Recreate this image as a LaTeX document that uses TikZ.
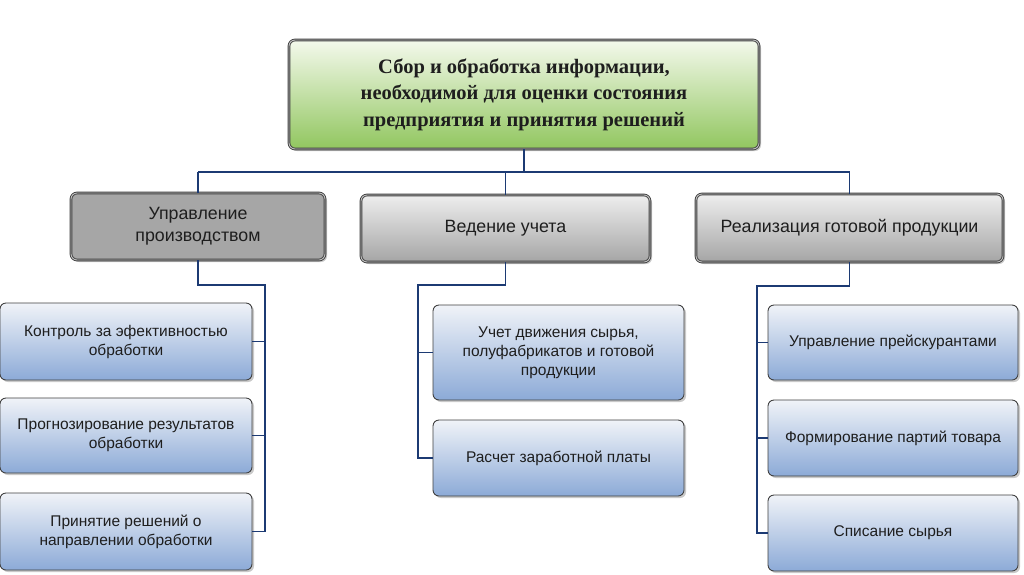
\documentclass[tikz,border=0pt]{standalone}
\usepackage{fontspec}
\setmainfont{Liberation Sans}
\newfontfamily\titlefont{Liberation Serif}
\usetikzlibrary{shadows}
\definecolor{conn}{RGB}{28,58,115}
\definecolor{txt}{RGB}{30,30,30}
\tikzset{
  box/.style={rounded corners=6pt, draw=black!75, line width=0.9pt, align=center, text=txt,
    inner sep=2pt, drop shadow={shadow xshift=2pt, shadow yshift=-2pt, fill=black!35, opacity=0.6}},
  framebox/.style={box, double=black!25, double distance=0.9pt},
  titlebox/.style={framebox, top color={rgb,255:red,244;green,249;blue,236}, bottom color={rgb,255:red,145;green,198;blue,95},
    font=\titlefont\bfseries\fontsize{20.5}{26.5}\selectfont, minimum width=470pt, minimum height=109pt},
  grayA/.style={framebox, fill={rgb,255:red,166;green,166;blue,166},
    font=\fontsize{17.8}{22}\selectfont},
  grayB/.style={framebox, top color={rgb,255:red,238;green,238;blue,238}, bottom color={rgb,255:red,165;green,165;blue,165},
    font=\fontsize{17.8}{22}\selectfont},
  bluebox/.style={box, top color={rgb,255:red,240;green,243;blue,248}, bottom color={rgb,255:red,140;green,170;blue,215},
    font=\fontsize{15.5}{19}\selectfont},
  connline/.style={draw=conn, line width=1.8pt},
  connshade/.style={draw=black!18, line width=1.8pt, xshift=1.5pt, yshift=-1.5pt},
}
\begin{document}
\begin{tikzpicture}[x=1pt,y=-1pt]
\useasboundingbox (0,0) rectangle (1024,574);
\fill[white] (0,0) rectangle (1024,574);
% nodes
\node[titlebox] (top) at (524,94.5) {Сбор и обработка информации,\\необходимой для оценки состояния\\предприятия и принятия решений};
\node[grayA, minimum width=254pt, minimum height=67pt] (a) at (198,226.5) {Управление\\производством};
\node[grayB, minimum width=289pt, minimum height=67pt] (b) at (505.5,228.5) {Ведение учета};
\node[grayB, minimum width=307pt, minimum height=68pt] (c) at (849.5,228) {Реализация готовой продукции};
\node[bluebox, minimum width=252pt, minimum height=77pt] (a1) at (126,341.5) {Контроль за эфективностью\\обработки};
\node[bluebox, minimum width=252pt, minimum height=75pt] (a2) at (126,435.5) {Прогнозирование результатов\\обработки};
\node[bluebox, minimum width=252pt, minimum height=77pt] (a3) at (126,531.5) {Принятие решений о\\направлении обработки};
\node[bluebox, minimum width=251pt, minimum height=95pt] (b1) at (558.5,352.5) {Учет движения сырья,\\полуфабрикатов и готовой\\продукции};
\node[bluebox, minimum width=251pt, minimum height=76pt] (b2) at (558.5,458) {Расчет заработной платы};
\node[bluebox, minimum width=250pt, minimum height=75pt] (c1) at (893,342.5) {Управление прейскурантами};
\node[bluebox, minimum width=250pt, minimum height=76pt] (c2) at (893,438) {Формирование партий товара};
\node[bluebox, minimum width=250pt, minimum height=76pt] (c3) at (893,533) {Списание сырья};
% junctions
\coordinate (bus) at (524,172);
\coordinate (ja) at (265,285);
\coordinate (jb) at (418,285);
\coordinate (jc) at (757,286);
% connectors
\foreach \s in {connshade,connline}{
  \draw[\s] (top.south) -- (bus);
  \draw[\s] (bus -| a.north) -- (bus -| c.north);
  \draw[\s] (bus -| a.north) -- (a.north);
  \draw[\s] (bus -| b.north) -- (b.north);
  \draw[\s] (bus -| c.north) -- (c.north);
  \draw[\s] (a.south) |- (ja) |- (a3.east);
  \draw[\s] (ja |- a1.east) -- (a1.east);
  \draw[\s] (ja |- a2.east) -- (a2.east);
  \draw[\s] (b.south) |- (jb) |- (b2.west);
  \draw[\s] (jb |- b1.west) -- (b1.west);
  \draw[\s] (c.south) |- (jc) |- (c3.west);
  \draw[\s] (jc |- c1.west) -- (c1.west);
  \draw[\s] (jc |- c2.west) -- (c2.west);
}
\end{tikzpicture}
\end{document}
